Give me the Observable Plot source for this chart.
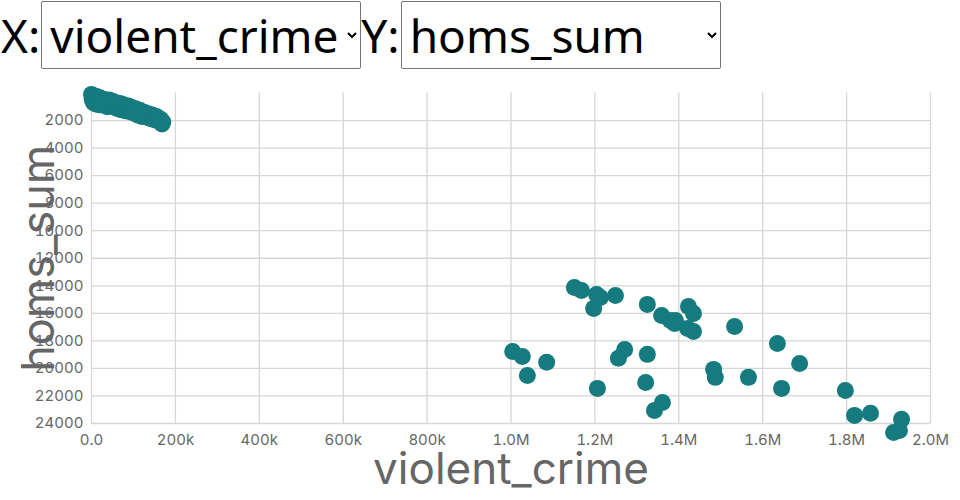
<!DOCTYPE html>
<html>
<head>
<meta charset="utf-8">
<script src="https://cdn.jsdelivr.net/npm/d3@7"></script>
<script src="https://cdn.jsdelivr.net/npm/@observablehq/plot@0.6"></script>
<style>
  html, body { margin: 0; padding: 0; background: #fff; }
  #controls { display: flex; align-items: center; height: 70px; font-family: "Noto Sans", sans-serif; font-size: 46px; color: #000; }
  #controls label { display: inline-block; }
  #controls label.x { margin-left: 1px; }
  #controls select { font-family: "Noto Sans", sans-serif; font-size: 46px; width: 320px; height: 68px; box-sizing: border-box;
    padding: 0 4px; border: 1px solid #767676; border-radius: 2px; background: #fff; color: #000; margin: 0 0 0 1px; }
  #chart svg { display: block; }
</style>
</head>
<body>
<div id="controls">
  <label class="x">X:</label>
  <select id="xsel"><option>violent_crime</option><option>homs_sum</option></select>
  <label>Y:</label>
  <select id="ysel"><option>homs_sum</option><option>violent_crime</option></select>
</div>
<div id="chart"></div>
<script>
// Left cluster (small values)
const violentLow = [0, 1500, 3000, 5000, 8000, 10000, 12000, 15000, 18000, 20000, 24000, 28000, 30000, 35000, 38000, 42000, 45000, 50000, 52000, 56000, 60000, 64000, 68000, 72000, 76000, 80000, 84000, 88000, 92000, 96000, 100000, 105000, 110000, 115000, 120000, 125000, 130000, 135000, 140000, 145000, 150000, 155000, 160000, 165000, 168000, 170000];
const homsLow    = [100, 450, 200, 700, 300, 800, 250, 600, 850, 350, 750, 450, 900, 550, 1000, 500, 950, 600, 1000, 700, 1100, 750, 1200, 800, 1250, 900, 1300, 950, 1350, 1050, 1450, 1150, 1600, 1250, 1700, 1400, 1750, 1500, 1850, 1600, 1950, 1700, 2050, 1900, 2250, 2100];
// Right cluster (national totals)
const violentHigh = [1151000, 1168000, 1204000, 1213000, 1249000, 1197000, 1325000, 1359000, 1380000, 1392000, 1390000, 1423000, 1435000, 1421000, 1435000,
  1004000, 1027000, 1085000, 1039000, 1271000, 1256000, 1325000, 1206000, 1321000, 1361000, 1342000, 1483000, 1487000,
  1533000, 1635000, 1688000, 1566000, 1645000, 1797000, 1819000, 1857000, 1931000, 1912000, 1926000];
const homsHigh = [14120, 14340, 14630, 14850, 14700, 15640, 15350, 16150, 16520, 16520, 16730, 15500, 16010, 17100, 17320,
  18770, 19130, 19560, 20510, 18620, 19270, 18980, 21450, 21020, 22470, 23050, 20070, 20650,
  16950, 18190, 19640, 20650, 21450, 21600, 23410, 23260, 23700, 24650, 24500];

const xTicks = [0, 200000, 400000, 600000, 800000, 1000000, 1200000, 1400000, 1600000, 1800000, 2000000];
const yTicks = [2000, 4000, 6000, 8000, 10000, 12000, 14000, 16000, 18000, 20000, 22000, 24000];
const xLabel = "violent_crime";
const yLabel = "homs_sum";

const data = [];
violentLow.forEach((v, i) => data.push({violent_crime: v, homs_sum: homsLow[i]}));
violentHigh.forEach((v, i) => data.push({violent_crime: v, homs_sum: homsHigh[i]}));

const chart = Plot.plot({
  width: 960,
  height: 430,
  marginTop: 22.5,
  marginBottom: 77,
  marginLeft: 91,
  marginRight: 30,
  style: {fontFamily: "Inter, sans-serif", fontSize: "15px", color: "#666", background: "#fff"},
  x: {domain: [0, 2000000]},
  y: {domain: [0, 24000], reverse: true},
  marks: [
    Plot.ruleY(yTicks, {stroke: "#d6d6d4", strokeWidth: 1.3}),
    Plot.ruleX(xTicks, {stroke: "#d6d6d4", strokeWidth: 1.3}),
    Plot.axisX({ticks: xTicks, tickFormat: d3.format(".2s"), tickSize: 0, tickPadding: 11, label: null, fill: "#666"}),
    Plot.axisY({ticks: yTicks, tickFormat: d3.format("d"), tickSize: 0, tickPadding: 8, label: null, fill: "#666"}),
    Plot.dot(data, {x: "violent_crime", y: "homs_sum", r: 8.5, fill: "#157b7f", stroke: "none"}),
    Plot.text([xLabel], {frameAnchor: "bottom", textAnchor: "middle", lineAnchor: "middle", dy: 46, fontSize: 44, fill: "#666"}),
    Plot.text([yLabel], {frameAnchor: "left", textAnchor: "middle", lineAnchor: "middle", dx: -52, rotate: -90, fontSize: 45, fill: "#666"})
  ]
});
document.getElementById("chart").appendChild(chart);
</script>
</body>
</html>
